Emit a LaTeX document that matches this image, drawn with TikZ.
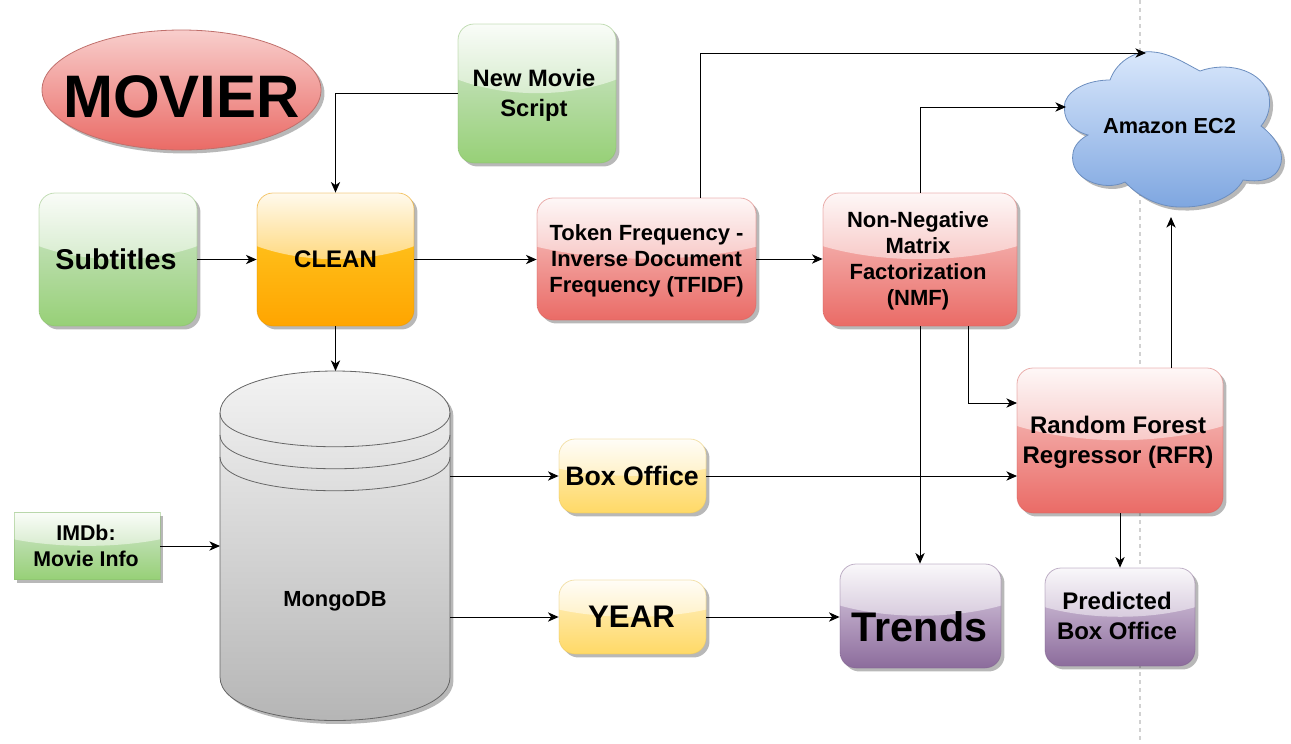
\documentclass[tikz,border=0pt]{standalone}
\usepackage{fontspec}
\setmainfont{Liberation Sans}
\usetikzlibrary{calc,arrows.meta,shapes.geometric,shadows}
\definecolor{grnT}{HTML}{D5E8D4}\definecolor{grnB}{HTML}{97D077}
\definecolor{orgT}{HTML}{FFCD28}\definecolor{orgB}{HTML}{FFA500}
\definecolor{redT}{HTML}{F8CECC}\definecolor{redB}{HTML}{EA6B66}
\definecolor{ylwT}{HTML}{FFF2CC}\definecolor{ylwB}{HTML}{FFD966}
\definecolor{purT}{HTML}{E1D5E7}\definecolor{purB}{HTML}{8C6C9C}
\definecolor{bluT}{HTML}{DAE8FC}\definecolor{bluB}{HTML}{7EA6E0}
\definecolor{gryT}{HTML}{F5F5F5}\definecolor{gryB}{HTML}{B3B3B3}
\definecolor{redL}{HTML}{C0706C}\definecolor{bluL}{HTML}{6C8EBF}
\newcommand{\ppb}{path picture bounding box}
\tikzset{
  softshadow/.style={drop shadow={shadow xshift=2.6pt,shadow yshift=-2.6pt,opacity=.28,fill=black}},
  glossy/.style 2 args={inner sep=0pt,softshadow,rounded corners=12pt,
    top color=#1,bottom color=#2,draw=#2!90!black,draw opacity=.45,line width=.6pt,
    path picture={
      \shade[sharp corners,draw=none,top color=#1!50!#2!8!white,bottom color=#1!50!#2!100!white]
      (\ppb.north west) -- (\ppb.north east)
      -- ($(\ppb.north east)!.4!(\ppb.south east)$)
      .. controls ($(\ppb.north east)!.53!(\ppb.south east)+.3*(\ppb.north west)-.3*(\ppb.north east)$)
      and ($(\ppb.north west)!.53!(\ppb.south west)+.3*(\ppb.north east)-.3*(\ppb.north west)$)
      .. ($(\ppb.north west)!.4!(\ppb.south west)$) -- cycle;}},
  sized/.style 2 args={minimum width=#1*.75pt,minimum height=#2*.75pt},
  txt/.style 2 args={align=center,inner sep=0pt,font=\fontsize{#1}{#2}\selectfont\bfseries},
  conn/.style={draw=black,line width=.75pt,-{Stealth[length=8pt,width=7pt,inset=2.4pt]}},
  guide/.style={draw=black!18,line width=.9pt,dash pattern=on 3pt off 3pt},
  storeline/.style={draw=black!60,line width=.6pt},
}
\begin{document}
\begin{tikzpicture}[x=.75pt,y=-.75pt]
\useasboundingbox (0,0) rectangle (1291,743);
% guide line
\coordinate (gtop) at (1140,0);
\coordinate (gbot) at (1140,743);
\draw[guide] (gtop) -- (gbot);
% title
\path[top color=redT,bottom color=redB,draw=redL,line width=.6pt,softshadow] (181.5,90) ellipse [x radius=139.5,y radius=60];
\node[txt={45}{50}] (movier) at (181.5,96.5) {MOVIER};
% cloud
\path[top color=bluT,bottom color=bluB,draw=bluL,line width=.6pt,softshadow]
  (1110,80) .. controls (1118,58) and (1140,50) .. (1153,52)
  .. controls (1170,53) and (1188,65) .. (1200,71)
  .. controls (1225,62) and (1258,68) .. (1268,92)
  .. controls (1272,105) and (1268,118) .. (1261,126)
  .. controls (1274,136) and (1284,150) .. (1281,163)
  .. controls (1276,182) and (1258,182) .. (1243,180)
  .. controls (1234,198) and (1205,208) .. (1180,207)
  .. controls (1158,207) and (1138,196) .. (1125,182)
  .. controls (1105,192) and (1068,180) .. (1073,153)
  .. controls (1074,146) and (1080,139) .. (1088,135)
  .. controls (1070,130) and (1062,118) .. (1065,102)
  .. controls (1070,88) and (1090,80) .. (1110,80) -- cycle;
\node[txt={16.3}{20}] (ec2) at (1169.5,126) {Amazon EC2};
\coordinate (ec2a) at (1146,53);
\coordinate (ec2b) at (1066,107);
\coordinate (ec2c) at (1171,217);
% cylinder
\path[top color=gryT,bottom color=gryB,storeline,softshadow]
  (220,413) .. controls (220,357) and (450,357) .. (450,413)
  -- (450,677) .. controls (450,735) and (220,735) .. (220,677) -- cycle;
\draw[storeline] (220,413) .. controls (220,458) and (450,458) .. (450,413);
\draw[storeline] (220,435) .. controls (220,480) and (450,480) .. (450,435);
\draw[storeline] (220,457) .. controls (220,502) and (450,502) .. (450,457);
\node[txt={16.4}{20}] (mongo) at (335,601.5) {MongoDB};
\coordinate (mongoTop) at (335.5,371);
\coordinate (mongoIn) at (220,546);
\coordinate (mongoA) at (450,476);
\coordinate (mongoB) at (450,617);
% boxes
\node[glossy={grnT}{grnB},sized={158}{133}] (subs) at (118,259.5) {};
\node[txt={21.5}{26}] (subsT) at (116,259.5) {Subtitles};
\node[glossy={grnT}{grnB},sized={158}{139}] (script) at (537,93.5) {};
\node[txt={17.8}{22.5}] (scriptT) at (534,95.5) {New Movie\\Script};
\node[glossy={orgT}{orgB},sized={157}{133}] (clean) at (335.5,259.5) {};
\node[txt={18}{22}] (cleanT) at (335.5,259.5) {CLEAN};
\node[glossy={redT}{redB},sized={219}{122}] (tfidf) at (646.5,259) {};
\node[txt={16.5}{19.5}] (tfidfT) at (646.5,261) {Token Frequency -\\Inverse Document\\Frequency (TFIDF)};
\node[glossy={redT}{redB},sized={194}{133}] (nmf) at (920,259.5) {};
\node[txt={16.5}{19.5}] (nmfT) at (918,260.5) {Non-Negative\\Matrix\\Factorization\\(NMF)};
\node[glossy={redT}{redB},sized={206}{145}] (rfr) at (1120,440.5) {};
\node[txt={18}{22.5}] (rfrT) at (1118,442.5) {Random Forest\\Regressor (RFR)};
\node[glossy={ylwT}{ylwB},sized={147}{74}] (boxo) at (632.5,476) {};
\node[txt={20}{24}] (boxoT) at (632,476) {Box Office};
\node[glossy={ylwT}{ylwB},sized={147}{74}] (year) at (632.5,617) {};
\node[txt={23.4}{28}] (yearT) at (631.5,617) {YEAR};
\node[glossy={purT}{purB},sized={161}{104}] (trends) at (920.5,616) {};
\node[txt={31}{36}] (trendsT) at (919.5,627) {Trends};
\node[glossy={purT}{purB},sized={150}{98}] (pred) at (1120,617) {};
\node[txt={18}{22.5}] (predT) at (1117,616) {Predicted\\Box Office};
\node[glossy={grnT}{grnB},rounded corners=0pt,sized={146}{67}] (imdb) at (87,546) {};
\node[txt={16}{19.5}] (imdbT) at (86,546) {IMDb:\\Movie Info};
% named ends
\coordinate (tfUp) at (700,198);
\coordinate (nmfOut) at (968,326);
\coordinate (rfrIn) at (1017,403);
\coordinate (rfrUp) at (1171,368);
\coordinate (rfrBox) at (1017,476);
\coordinate (predUp) at (1120,513);
% connectors
\draw[conn] (script.west) -| (clean.north);
\draw[conn] (subs.east) -- (clean.west);
\draw[conn] (clean.east) -- (tfidf.west |- clean.east);
\draw[conn] (tfidf.east) -- (nmf.west |- tfidf.east);
\draw[conn] (clean.south) -- (mongoTop);
\draw[conn] (tfUp) |- (ec2a);
\draw[conn] (nmf.north) |- (ec2b);
\draw[conn] (nmf.south) -- (trends.north -| nmf.south);
\draw[conn] (nmfOut) |- (rfrIn);
\draw[conn] (rfrUp) -- (ec2c);
\draw[conn] (predUp) -- (pred.north);
\draw[conn] (boxo.east) -- (rfrBox);
\draw[conn] (mongoA) -- (boxo.west);
\draw[conn] (mongoB) -- (year.west);
\draw[conn] (year.east) -- (trends.west |- year.east);
\draw[conn] (imdb.east) -- (mongoIn);
\end{tikzpicture}
\end{document}
